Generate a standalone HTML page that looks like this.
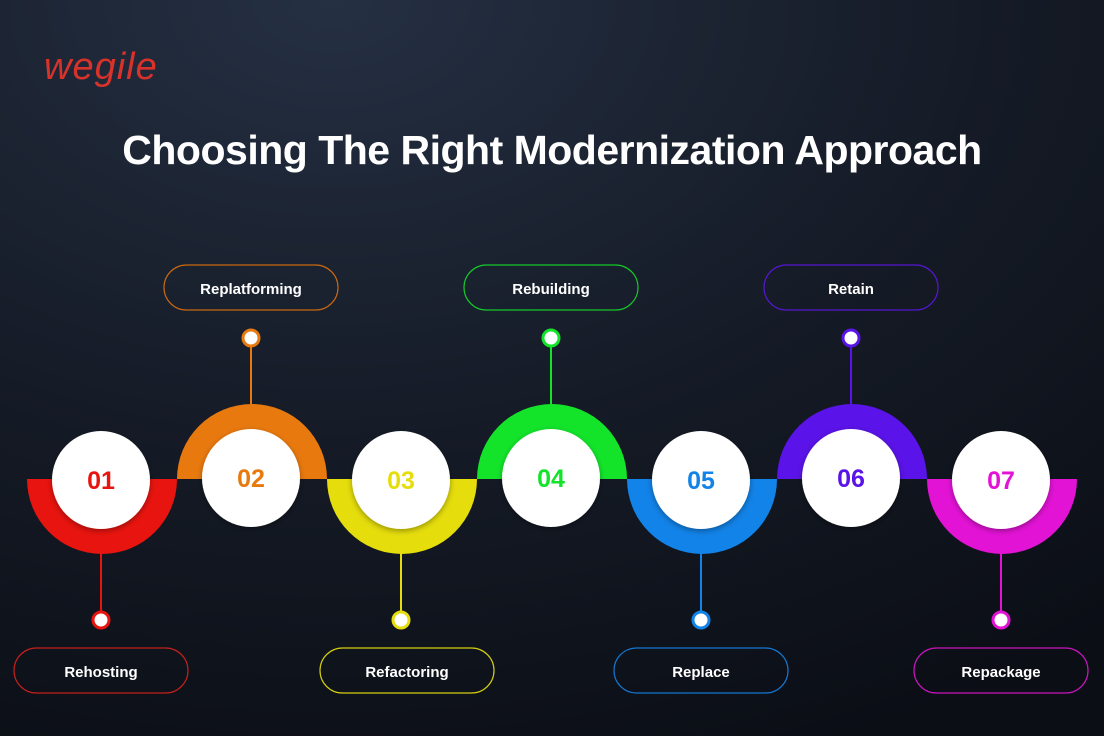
<!DOCTYPE html>
<html><head><meta charset="utf-8"><style>
html,body{margin:0;padding:0;width:1104px;height:736px;overflow:hidden;background:#0f131c}
svg{display:block}
.p{font-family:"Liberation Sans",sans-serif;font-size:15px;font-weight:bold;fill:#fff;text-anchor:middle}
.n{font-family:"Liberation Sans",sans-serif;font-size:25px;font-weight:900;text-anchor:middle}
</style></head><body>
<svg width="1104" height="736" viewBox="0 0 1104 736" xmlns="http://www.w3.org/2000/svg">
<defs>
<radialGradient id="bg" cx="0.3" cy="0" r="1.1">
<stop offset="0" stop-color="#253043"/><stop offset="0.5" stop-color="#161c28"/><stop offset="1" stop-color="#0b0e15"/>
</radialGradient>
<filter id="sh" x="-30%" y="-30%" width="160%" height="160%"><feDropShadow dx="0" dy="2" stdDeviation="3" flood-color="#000" flood-opacity="0.35"/></filter>
</defs>
<rect width="1104" height="736" fill="url(#bg)"/>
<text x="44" y="79" font-family="Liberation Sans, sans-serif" font-size="38" font-style="italic" fill="#d8322b" letter-spacing="1">wegile</text>
<text x="552" y="164" text-anchor="middle" font-family="Liberation Sans, sans-serif" font-size="41" font-weight="bold" fill="#fff" letter-spacing="-0.5">Choosing The Right Modernization Approach</text>
<!-- 01 -->
<path d="M27 479 A75 75 0 0 0 177 479 Z" fill="#e8140f"/>
<line x1="101" y1="553" x2="101" y2="612" stroke="#e8140f" stroke-width="2"/>
<circle cx="101" cy="620" r="8" fill="#fff" stroke="#e8140f" stroke-width="3"/>
<rect x="14" y="648" width="174" height="45" rx="22.5" fill="none" stroke="#c3201c" stroke-width="1.2"/>
<text x="101" y="677" class="p">Rehosting</text>
<circle cx="101" cy="480" r="49" fill="#fff" filter="url(#sh)"/>
<text x="101" y="489" class="n" fill="#e8140f">01</text>
<!-- 02 -->
<path d="M177 479 A75 75 0 0 1 327 479 Z" fill="#e8790f"/>
<line x1="251" y1="404" x2="251" y2="346" stroke="#e8790f" stroke-width="2"/>
<circle cx="251" cy="338" r="8" fill="#fff" stroke="#e8790f" stroke-width="3"/>
<rect x="164" y="265" width="174" height="45" rx="22.5" fill="none" stroke="#c8680f" stroke-width="1.2"/>
<text x="251" y="294" class="p">Replatforming</text>
<circle cx="251" cy="478" r="49" fill="#fff" filter="url(#sh)"/>
<text x="251" y="487" class="n" fill="#e8790f">02</text>
<!-- 03 -->
<path d="M327 479 A75 75 0 0 0 477 479 Z" fill="#e5dd0c"/>
<line x1="401" y1="553" x2="401" y2="612" stroke="#e5dd0c" stroke-width="2"/>
<circle cx="401" cy="620" r="8" fill="#fff" stroke="#e5dd0c" stroke-width="3"/>
<rect x="320" y="648" width="174" height="45" rx="22.5" fill="none" stroke="#d5ce10" stroke-width="1.2"/>
<text x="407" y="677" class="p">Refactoring</text>
<circle cx="401" cy="480" r="49" fill="#fff" filter="url(#sh)"/>
<text x="401" y="489" class="n" fill="#e5dd0c">03</text>
<!-- 04 -->
<path d="M477 479 A75 75 0 0 1 627 479 Z" fill="#13e42a"/>
<line x1="551" y1="404" x2="551" y2="346" stroke="#13e42a" stroke-width="2"/>
<circle cx="551" cy="338" r="8" fill="#fff" stroke="#13e42a" stroke-width="3"/>
<rect x="464" y="265" width="174" height="45" rx="22.5" fill="none" stroke="#15c82a" stroke-width="1.2"/>
<text x="551" y="294" class="p">Rebuilding</text>
<circle cx="551" cy="478" r="49" fill="#fff" filter="url(#sh)"/>
<text x="551" y="487" class="n" fill="#13e42a">04</text>
<!-- 05 -->
<path d="M627 479 A75 75 0 0 0 777 479 Z" fill="#1283e8"/>
<line x1="701" y1="553" x2="701" y2="612" stroke="#1283e8" stroke-width="2"/>
<circle cx="701" cy="620" r="8" fill="#fff" stroke="#1283e8" stroke-width="3"/>
<rect x="614" y="648" width="174" height="45" rx="22.5" fill="none" stroke="#1476cf" stroke-width="1.2"/>
<text x="701" y="677" class="p">Replace</text>
<circle cx="701" cy="480" r="49" fill="#fff" filter="url(#sh)"/>
<text x="701" y="489" class="n" fill="#1283e8">05</text>
<!-- 06 -->
<path d="M777 479 A75 75 0 0 1 927 479 Z" fill="#5a13e8"/>
<line x1="851" y1="404" x2="851" y2="346" stroke="#5a13e8" stroke-width="2"/>
<circle cx="851" cy="338" r="8" fill="#fff" stroke="#5a13e8" stroke-width="3"/>
<rect x="764" y="265" width="174" height="45" rx="22.5" fill="none" stroke="#5516d0" stroke-width="1.2"/>
<text x="851" y="294" class="p">Retain</text>
<circle cx="851" cy="478" r="49" fill="#fff" filter="url(#sh)"/>
<text x="851" y="487" class="n" fill="#5a13e8">06</text>
<!-- 07 -->
<path d="M927 479 A75 75 0 0 0 1077 479 Z" fill="#e213d5"/>
<line x1="1001" y1="553" x2="1001" y2="612" stroke="#e213d5" stroke-width="2"/>
<circle cx="1001" cy="620" r="8" fill="#fff" stroke="#e213d5" stroke-width="3"/>
<rect x="914" y="648" width="174" height="45" rx="22.5" fill="none" stroke="#c815bd" stroke-width="1.2"/>
<text x="1001" y="677" class="p">Repackage</text>
<circle cx="1001" cy="480" r="49" fill="#fff" filter="url(#sh)"/>
<text x="1001" y="489" class="n" fill="#e213d5">07</text>
</svg>
</body></html>
